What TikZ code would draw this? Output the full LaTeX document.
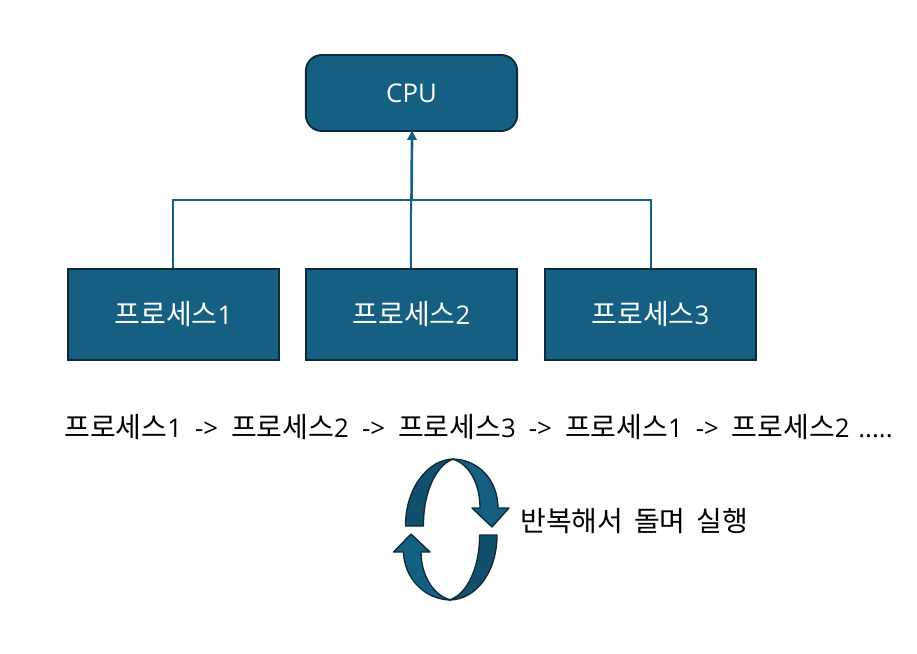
\documentclass[tikz,border=0pt]{standalone}
\usepackage{fontspec}
\setmainfont{Noto Sans CJK KR}
\newfontfamily\latinf[Scale=0.92]{Open Sans}
\definecolor{boxfill}{HTML}{156082}
\definecolor{boxline}{HTML}{0B2A3A}
\definecolor{darkband}{HTML}{124F6C}
\usetikzlibrary{arrows.meta}
\tikzset{
 procbox/.style={draw=boxline,fill=boxfill,line width=1.4pt,minimum width=158.5pt,minimum height=68pt,inner sep=0pt,text=white,font=\fontsize{21}{25}\selectfont},
 cpubox/.style={procbox,rounded corners=12pt,minimum height=57pt},
 link/.style={draw=boxfill,line width=1.5pt},
 band/.style={draw=boxline,line width=1pt,line join=round},
 plain/.style={inner sep=0pt,text=black,font=\fontsize{21}{25}\selectfont},
}
\begin{document}
\begin{tikzpicture}[x=0.75pt,y=-0.75pt]
\useasboundingbox (0,0) rectangle (917,653);
\node[cpubox] (cpu) at (411.5,93) {\raisebox{-1pt}{\latinf CPU}};
\node[procbox] (p1) at (173.5,314.5) {프로세스{\latinf 1}};
\node[procbox] (p2) at (411.5,314.5) {프로세스{\latinf 2}};
\node[procbox] (p3) at (650.5,314.5) {프로세스{\latinf 3}};
\coordinate (j) at (411,200);
\draw[link] ([xshift=-0.4pt]p1.north) |- (j);
\draw[link] (p3.north) |- (j);
\draw[link] ([xshift=-0.4pt]p2.north) -- (j);
\draw[link,line width=2pt,shorten >=-1pt,-{Triangle[length=7pt,width=7pt]}] ([xshift=0.4pt]j) -- ([xshift=0.4pt]cpu.south);
\node[plain,anchor=west] (seq) at (64,427) {\spaceskip=9.8pt 프로세스{\latinf 1 -> }프로세스{\latinf 2 -> }프로세스{\latinf 3 -> }프로세스{\latinf 1 -> }프로세스{\latinf 2\hspace{6.5pt}.....}};
\node[plain,anchor=west] (rep) at (520,521) {\spaceskip=8.1pt 반복해서 돌며 실행};
% upper arrow
\draw[band,fill=darkband] (405.5,526) .. controls (405.5,488) and (428,459) .. (454,459)
  .. controls (438,463) and (423,490) .. (423.5,526) -- cycle;
\draw[band,fill=boxfill] (452,459) .. controls (478,459) and (498,480) .. (498,508)
  -- (509,508) -- (492,527) -- (472,508) -- (480,508) .. controls (480,482) and (468,463) .. (452,459) -- cycle;
% lower arrow
\draw[band,fill=darkband] (497,535) .. controls (497,572) and (476,600) .. (449,600)
  .. controls (465,596) and (480,570) .. (479.5,535) -- cycle;
\draw[band,fill=boxfill] (451,600) .. controls (425,600) and (404,578) .. (403.5,552)
  -- (393.5,552) -- (411,534) -- (430,552) -- (421,552) .. controls (421,576) and (434,596) .. (451,600) -- cycle;
\end{tikzpicture}
\end{document}
